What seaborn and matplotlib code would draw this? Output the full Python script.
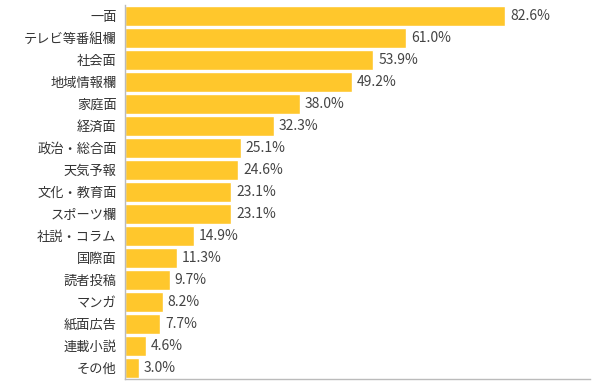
import matplotlib.pyplot as plt
import seaborn as sns
import pandas as pd

categories = ["一面", "テレビ等番組欄", "社会面", "地域情報欄", "家庭面", "経済面", "政治・総合面",
              "天気予報", "文化・教育面", "スポーツ欄", "社説・コラム", "国際面", "読者投稿",
              "マンガ", "紙面広告", "連載小説", "その他"]
values = [82.6, 61.0, 53.9, 49.2, 38.0, 32.3, 25.1, 24.6, 23.1, 23.1, 14.9, 11.3, 9.7, 8.2, 7.7, 4.6, 3.0]

df = pd.DataFrame({"item": categories, "pct": values})

sns.set_style("white")
plt.rcParams['font.family'] = ['Noto Sans CJK JP', 'DejaVu Sans']

fig = plt.figure(figsize=(6, 3.92), dpi=100)
ax = fig.add_axes([125 / 600, 1 - 379 / 392, 465 / 600, 374 / 392])

sns.barplot(data=df, x="pct", y="item", orient="h", color="#FFC72C",
            saturation=1, width=0.88, ax=ax)

for i, v in enumerate(values):
    ax.text(v + 1.1, i, f"{v:.1f}%", va="center", ha="left", fontsize=10, color="#444444")

ax.set_xlim(0, 101)
ax.set_ylim(16.5, -0.5)
ax.set_xlabel("")
ax.set_ylabel("")
ax.set_xticks([])
ax.tick_params(axis="y", length=0, pad=6, labelsize=9.5, labelcolor="#333333")
for s in ["top", "right"]:
    ax.spines[s].set_visible(False)
for s in ["left", "bottom"]:
    ax.spines[s].set_color("#bbbbbb")
    ax.spines[s].set_linewidth(1)

fig.savefig("out.png", dpi=100)
